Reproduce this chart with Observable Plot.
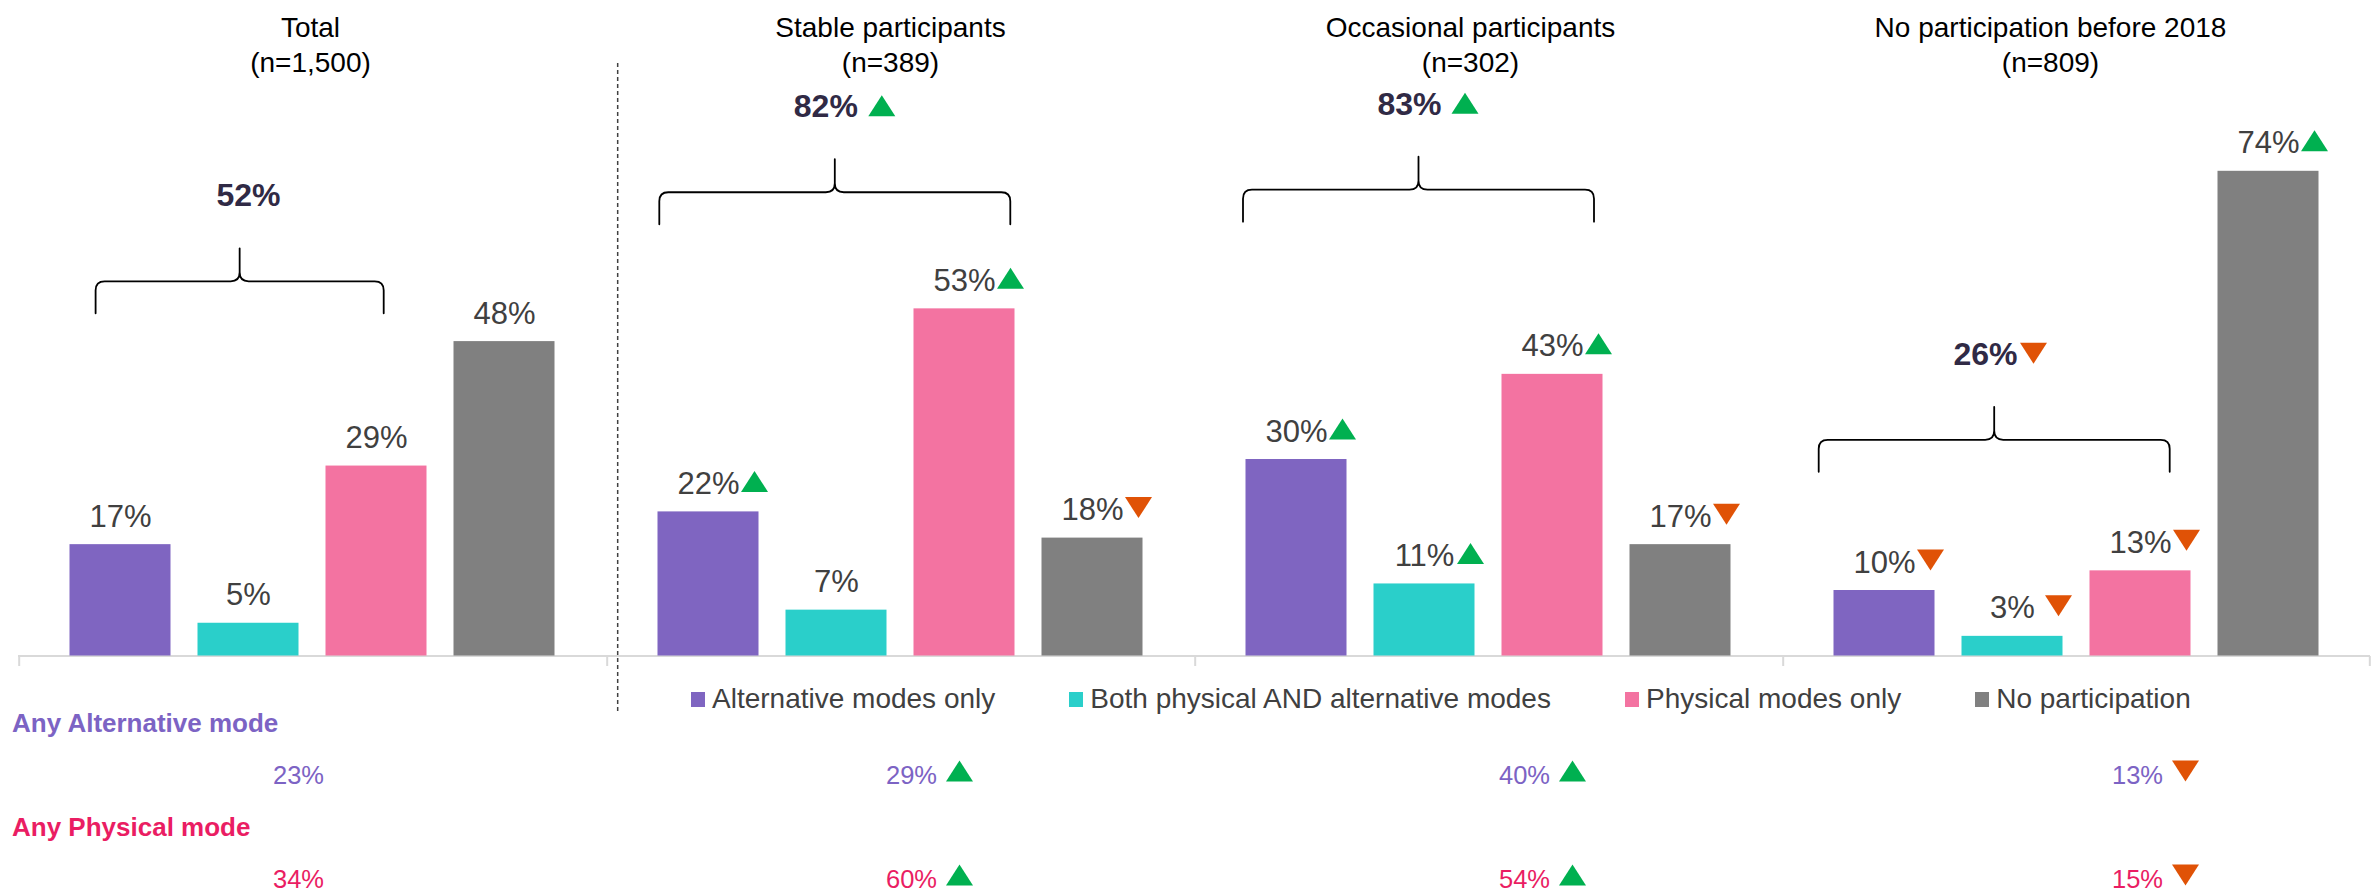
<!DOCTYPE html>
<html>
<head>
<meta charset="utf-8">
<script src="https://cdn.jsdelivr.net/npm/d3@7"></script>
<script src="https://cdn.jsdelivr.net/npm/@observablehq/plot@0.6"></script>
<style>
html, body { margin: 0; padding: 0; background: #fff; }
#wrap { position: relative; width: 2374px; height: 894px; overflow: hidden; font-family: "Liberation Sans", Arial, sans-serif; }
#wrap > svg { position: absolute; left: 0; top: 0; }
#legend { position: absolute; left: 691px; top: 683px; }
#legend > div { font-family: "Liberation Sans", Arial, sans-serif !important; font-size: 28px !important; color: #404040; margin: 0 !important; min-height: 0 !important; display: flex; align-items: center; flex-wrap: nowrap; white-space: nowrap; }
#legend span.lg-swatch { margin-right: 74px !important; display: inline-flex; align-items: center; }
#legend span.lg-swatch > svg { margin-right: 7px !important; }
</style>
</head>
<body>
<div id="wrap"><div id="legend"></div></div>
<script>
// ---------- data ----------
const groups = ["Total", "Stable participants", "Occasional participants", "No participation before 2018"];
const groupN = ["n=1,500", "n=389", "n=302", "n=809"];
const modes = ["Alternative modes only", "Both physical AND alternative modes", "Physical modes only", "No participation"];
const modeColors = ["#7F65C1", "#2ACFCA", "#F373A1", "#808080"];

const altOnly   = [17, 22, 30, 10];
const bothModes = [5, 7, 11, 3];
const physOnly  = [29, 53, 43, 13];
const noPart    = [48, 18, 17, 74];
const altOnlySig   = [null, "up", "up", "down"];
const bothModesSig = [null, null, "up", "down"];
const physOnlySig  = [null, "up", "up", "down"];
const noPartSig    = [null, "down", "down", "up"];

const anyPart    = [52, 82, 83, 26];
const anyPartSig = [null, "up", "up", "down"];

const rowLabels = ["Any Alternative mode", "Any Physical mode"];
const anyAlt     = [23, 29, 40, 13];
const anyAltSig  = [null, "up", "up", "down"];
const anyPhys    = [34, 60, 54, 15];
const anyPhysSig = [null, "up", "up", "down"];

// ---------- layout (annotation placement, not data) ----------
const W = 2374, H = 894, ML = 17.5, MR = 4;
const PAD_IN = 0.214, PAD_OUT = 0.3955;
const facetW = (W - ML - MR) / groups.length;
const step = facetW / (modes.length - PAD_IN + 2 * PAD_OUT);
const firstCenter = PAD_OUT * step + (1 - PAD_IN) * step / 2;   // facet edge -> first band centre
const braceLayout = [
  {level: 57.2, a: -24.9, b: 7.2,  labelDx: 0,     arrowDx: 0},
  {level: 70.8, a: -49.2, b: 45.8, labelDx: -10.7, arrowDx: 45.3},
  {level: 71.2, a: -53.5, b: 41.5, labelDx: -15,   arrowDx: 40.5},
  {level: 33.0, a: -65.8, b: 29.2, labelDx: -27,   arrowDx: 21}
];
const UP = "#00B050", DOWN = "#E05206";
const FONT = "Liberation Sans, Arial, sans-serif";
const ALT_COLOR = "#7C63C4", PHYS_COLOR = "#EA1D63";
const AXIS_Y = 656;

// ---------- tables built from arrays ----------
const series = [altOnly, bothModes, physOnly, noPart];
const seriesSig = [altOnlySig, bothModesSig, physOnlySig, noPartSig];
const rows = [];
groups.forEach((g, gi) => modes.forEach((m, mi) => rows.push({group: g, mode: m, value: series[mi][gi], sig: seriesSig[mi][gi]})));
const tableRows = [];
groups.forEach((g, i) => {
  tableRows.push({group: g, row: "altVal", value: anyAlt[i], sig: anyAltSig[i]});
  tableRows.push({group: g, row: "physVal", value: anyPhys[i], sig: anyPhysSig[i]});
});
const labelRows = [{row: "altLabel", text: rowLabels[0]}, {row: "physLabel", text: rowLabels[1]}];

// ---------- triangle symbols ----------
const triUp = {draw(ctx, size) { const s = Math.sqrt(size / Math.PI); const w = 1.35 * s, h = 1.05 * s; ctx.moveTo(0, -h); ctx.lineTo(w, h); ctx.lineTo(-w, h); ctx.closePath(); }};
const triDown = {draw(ctx, size) { const s = Math.sqrt(size / Math.PI); const w = 1.35 * s, h = 1.05 * s; ctx.moveTo(0, h); ctx.lineTo(w, -h); ctx.lineTo(-w, -h); ctx.closePath(); }};

// ---------- curly brace as a custom curve ----------
function braceCurve(a, b) {
  return function(context) {
    let pts = [];
    return {
      areaStart() {}, areaEnd() {},
      lineStart() { pts = []; },
      point(x, y) { pts.push([+x, +y]); },
      lineEnd() {
        if (pts.length < 2) return;
        const p0 = pts[0], p1 = pts[pts.length - 1];
        const x0 = p0[0] + a, x1 = p1[0] + b, yy = p0[1];
        const cx = (x0 + x1) / 2, r = 9, leg = 32, tip = 33;
        context.moveTo(x0, yy + leg);
        context.lineTo(x0, yy + r);
        context.quadraticCurveTo(x0, yy, x0 + r, yy);
        context.lineTo(cx - r, yy);
        context.quadraticCurveTo(cx, yy, cx, yy - r);
        context.lineTo(cx, yy - tip);
        context.moveTo(cx, yy - r);
        context.quadraticCurveTo(cx, yy, cx + r, yy);
        context.lineTo(x1 - r, yy);
        context.quadraticCurveTo(x1, yy, x1, yy + r);
        context.lineTo(x1, yy + leg);
      }
    };
  };
}

const braceMarks = [];
groups.forEach((g, i) => {
  const L = braceLayout[i];
  const pts = [{group: g, mode: modes[0], level: L.level}, {group: g, mode: modes[2], level: L.level}];
  braceMarks.push(Plot.line(pts, {fx: "group", x: "mode", y: "level", curve: braceCurve(L.a, L.b), stroke: "#000", strokeWidth: 1.8}));
  const lab = [{group: g, mode: modes[1], level: L.level, value: anyPart[i], sig: anyPartSig[i]}];
  braceMarks.push(Plot.text(lab, {fx: "group", x: "mode", y: "level", text: d => d.value + "%", lineAnchor: "bottom", dy: -75, dx: L.labelDx, fontSize: 32, fontWeight: "bold", fill: "#302A45"}));
  if (anyPartSig[i]) {
    braceMarks.push(Plot.dot(lab, {fx: "group", x: "mode", y: "level", symbol: anyPartSig[i] === "up" ? triUp : triDown, r: 10, fill: anyPartSig[i] === "up" ? UP : DOWN, stroke: "none", dx: L.arrowDx, dy: -86.5}));
  }
});

const yMain = {domain: [0, 100], range: [655.5, 0.5]};
const groupRows = groups.map(g => ({group: g}));

const main = Plot.plot({
  width: W, height: H,
  marginLeft: ML, marginRight: MR, marginTop: 0, marginBottom: 0,
  style: {fontFamily: FONT, background: "transparent"},
  fx: {domain: groups, padding: 0, axis: null},
  x: {domain: modes, paddingInner: PAD_IN, paddingOuter: PAD_OUT, axis: null},
  y: {...yMain, axis: null},
  color: {domain: modes, range: modeColors},
  marks: [
    Plot.ruleY([0], {stroke: "#D9D9D9", strokeWidth: 2}),
    // facet boundary ticks below the axis line
    Plot.ruleX(groupRows, {fx: "group", x: () => modes[0], dx: -firstCenter, insetTop: AXIS_Y, insetBottom: H - AXIS_Y - 10, stroke: "#D9D9D9", strokeWidth: 2}),
    Plot.ruleX(groupRows.slice(-1), {fx: "group", x: () => modes[modes.length - 1], dx: firstCenter, insetTop: AXIS_Y, insetBottom: H - AXIS_Y - 10, stroke: "#D9D9D9", strokeWidth: 2}),
    // dashed separator between Total and the sub-groups
    Plot.ruleX(groupRows.slice(1, 2), {fx: "group", x: () => modes[0], dx: -firstCenter + 10.5, insetTop: 63, insetBottom: H - 712, stroke: "#404040", strokeWidth: 1.5, strokeDasharray: "4,3"}),
    Plot.barY(rows, {fx: "group", x: "mode", y: "value", fill: "mode"}),
    Plot.text(rows, {fx: "group", x: "mode", y: "value", text: d => d.value + "%", lineAnchor: "bottom", dy: -18, fontSize: 31, fill: "#404040"}),
    Plot.dot(rows.filter(d => d.sig === "up"), {fx: "group", x: "mode", y: "value", symbol: triUp, r: 10, fill: UP, stroke: "none", dx: 46, dy: -30.5}),
    Plot.dot(rows.filter(d => d.sig === "down"), {fx: "group", x: "mode", y: "value", symbol: triDown, r: 10, fill: DOWN, stroke: "none", dx: 46, dy: -30.5}),
    ...braceMarks
  ]
});

const titles = Plot.plot({
  width: W, height: 80,
  marginLeft: 0, marginRight: 0, marginTop: 12, marginBottom: 0,
  style: {fontFamily: FONT, background: "transparent"},
  x: {type: "point", domain: groups, range: [309.5, 2049.6], padding: 0, axis: null},
  marks: [
    Plot.text(groups, {x: d => d, text: (d, i) => `${d}\n(${groupN[i]})`, frameAnchor: "top", lineAnchor: "top", fontSize: 28, lineHeight: 1.24, fill: "#000"})
  ]
});

const table = Plot.plot({
  width: W, height: H,
  marginLeft: 11.5, marginRight: 0, marginTop: 0, marginBottom: 0,
  style: {fontFamily: FONT, background: "transparent"},
  x: {type: "point", domain: groups, range: [297, 2137], padding: 0, axis: null},
  y: {type: "point", domain: ["altLabel", "altVal", "physLabel", "physVal"], range: [730, 888], padding: 0, axis: null},
  marks: [
    Plot.text(labelRows.filter(d => d.row === "altLabel"), {y: "row", text: "text", frameAnchor: "left", textAnchor: "start", lineAnchor: "bottom", fontSize: 26, fontWeight: "bold", fill: ALT_COLOR}),
    Plot.text(labelRows.filter(d => d.row === "physLabel"), {y: "row", text: "text", frameAnchor: "left", textAnchor: "start", lineAnchor: "bottom", fontSize: 26, fontWeight: "bold", fill: PHYS_COLOR}),
    Plot.text(tableRows.filter(d => d.row === "altVal"), {x: "group", y: "row", text: d => d.value + "%", lineAnchor: "bottom", fontSize: 25.5, fill: ALT_COLOR}),
    Plot.text(tableRows.filter(d => d.row === "physVal"), {x: "group", y: "row", text: d => d.value + "%", lineAnchor: "bottom", fontSize: 25.5, fill: PHYS_COLOR}),
    Plot.dot(tableRows.filter(d => d.sig === "up"), {x: "group", y: "row", symbol: triUp, r: 10, fill: UP, stroke: "none", dx: 48, dy: -12.5}),
    Plot.dot(tableRows.filter(d => d.sig === "down"), {x: "group", y: "row", symbol: triDown, r: 10, fill: DOWN, stroke: "none", dx: 48, dy: -12.5})
  ]
});

const wrap = document.getElementById("wrap");
wrap.insertBefore(main, wrap.firstChild);
wrap.appendChild(titles);
wrap.appendChild(table);

const legend = Plot.legend({
  color: {type: "ordinal", domain: modes, range: modeColors},
  legend: "swatches", swatchWidth: 14, swatchHeight: 15, className: "lg"
});
document.getElementById("legend").appendChild(legend);
</script>
</body>
</html>
